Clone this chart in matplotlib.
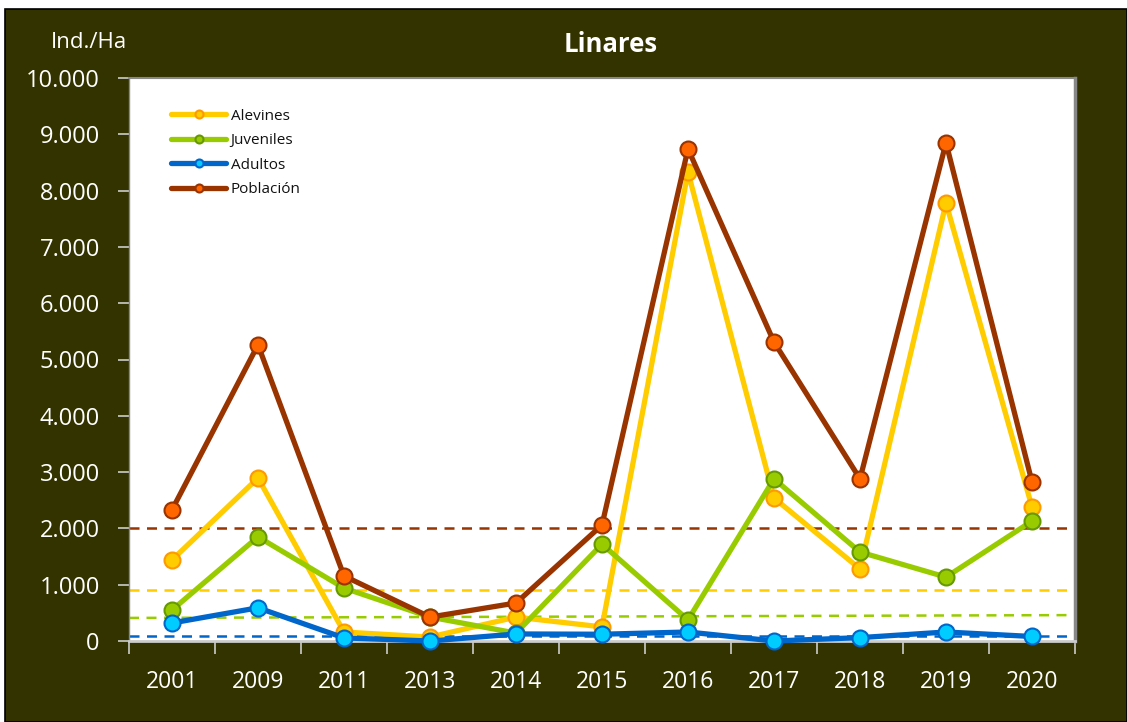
import matplotlib
matplotlib.use("Agg")
import matplotlib.pyplot as plt
from matplotlib.patches import Rectangle
from matplotlib.ticker import FuncFormatter, FixedLocator

plt.rcParams['font.family'] = ['Open Sans', 'DejaVu Sans']

years = ['2001', '2009', '2011', '2013', '2014', '2015', '2016', '2017', '2018', '2019', '2020']
alevines = [1440, 2895, 160, 70, 425, 250, 8330, 2540, 1280, 7780, 2380]
juveniles = [550, 1850, 940, 425, 140, 1720, 375, 2880, 1580, 1135, 2130]
adultos = [320, 590, 55, 0, 125, 120, 160, 0, 60, 160, 80]
poblacion = [2330, 5260, 1155, 425, 675, 2060, 8740, 5310, 2880, 8850, 2825]

# reference (dashed) levels
ref_poblacion = [2000, 2000]
ref_alevines = [905, 905]
ref_juveniles = [410, 460]
ref_adultos = [80, 80]

yticks = list(range(0, 10001, 1000))

W, H = 1127, 722
fig = plt.figure(figsize=(W / 100, H / 100), dpi=100, facecolor='white')
fig.patches.append(Rectangle((5 / W, 0), 1 - 5 / W, 1 - 9 / H, transform=fig.transFigure,
                             facecolor='#333300', edgecolor='black', linewidth=1.2, zorder=-10))

ax = fig.add_axes([129 / W, (H - 641) / H, 946 / W, 563 / H])
ax.set_zorder(1)
ax.set_facecolor('white')
x = list(range(len(years)))
ax.set_xlim(-0.5, len(years) - 0.5)
ax.set_ylim(0, 10000)

xl = [-0.5, len(years) - 0.5]
ax.plot(xl, ref_poblacion, color='#993300', lw=1.8, ls=(0, (4, 3)), zorder=2)
ax.plot(xl, ref_alevines, color='#FFCC00', lw=1.8, ls=(0, (4, 3)), zorder=2)
ax.plot(xl, ref_juveniles, color='#99CC00', lw=1.8, ls=(0, (4, 3)), zorder=2)
ax.plot(xl, ref_adultos, color='#0066CC', lw=1.8, ls=(0, (4, 3)), zorder=2)

series = [
    ('Alevines', alevines, '#FFCC00', '#FFCC00', '#FF9900'),
    ('Juveniles', juveniles, '#99CC00', '#99CC00', '#669900'),
    ('Adultos', adultos, '#0066CC', '#00CCFF', '#0066CC'),
    ('Población', poblacion, '#993300', '#FF6600', '#993300'),
]
handles = []
for i, (name, vals, lc, fc, ec) in enumerate(series):
    h, = ax.plot(x, vals, color=lc, lw=3.8, marker='o', ms=11.5, mfc=fc, mec=ec, mew=1.5,
                 label=name, zorder=3 + i, clip_on=False, solid_capstyle='round')
    handles.append(h)

leg = ax.legend(handles=handles, loc='upper left', bbox_to_anchor=(0.03, 0.97), frameon=False,
                fontsize=11, handlelength=3.6, labelspacing=0.62, handletextpad=0.3,
                markerscale=0.5)
for t in leg.get_texts():
    t.set_color('#111111')

# axes styling
for s in ['top', 'right', 'left']:
    ax.spines[s].set_color('#888888')
ax.spines['right'].set_linewidth(2.5)
ax.spines['top'].set_linewidth(1.5)
ax.spines['left'].set_linewidth(1.0)
ax.spines['bottom'].set_color('#cccccc')
ax.spines['bottom'].set_linewidth(2.0)

ax.set_yticks(yticks)
ax.yaxis.set_major_formatter(FuncFormatter(lambda v, p: f"{int(v):,}".replace(',', '.')))
ax.tick_params(axis='y', colors='#cccccc', labelcolor='white', labelsize=17, length=8, width=1.2, pad=13)

ax.set_xticks(x)
ax.set_xticklabels(years)
ax.tick_params(axis='x', which='major', length=0, labelcolor='white', labelsize=16.5, pad=21)
ax.xaxis.set_minor_locator(FixedLocator([i - 0.5 for i in range(len(years) + 1)]))
ax.tick_params(axis='x', which='minor', length=9, width=1.2, colors='#cccccc')

fig.text(611 / W, 1 - 45 / H, 'Linares', color='white', fontsize=18.5, fontweight='bold',
         ha='center', va='center')
fig.text(89 / W, 1 - 43 / H, 'Ind./Ha', color='white', fontsize=16, ha='center', va='center')

fig.savefig('out.png', dpi=100, facecolor=fig.get_facecolor())
